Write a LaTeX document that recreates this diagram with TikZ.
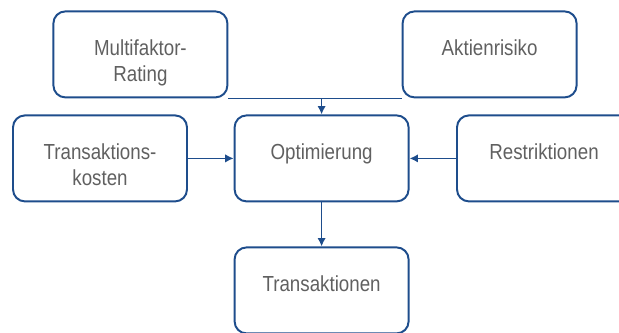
\documentclass[tikz,border=0pt]{standalone}
\usepackage{fontspec}
\setmainfont[FakeStretch=0.86]{Liberation Sans}
\usepackage{xcolor}
\usepackage{tikz}
\usetikzlibrary{arrows.meta,positioning}
\definecolor{accent}{HTML}{1E4D8C}
\definecolor{txtgray}{HTML}{606060}
\tikzset{
  kbox/.style={draw=accent,line width=1.4pt,rounded corners=8.5pt,minimum width=4.35cm,minimum height=2.15cm,inner sep=0pt},
  ktext/.style={anchor=base,text=txtgray,align=center,inner sep=0pt,font=\fontsize{15.5}{18.6}\selectfont},
  karr/.style={-{Latex[length=2.1mm,width=2.1mm]},line width=1.1pt,draw=accent},
  kline/.style={line width=1.1pt,draw=accent}
}

\begin{document}
\begin{tikzpicture}
  \useasboundingbox (0,0) rectangle (15.475,-8.3);
  % boxes
  \node[kbox] (mfr) at (3.51,-1.36) {};
  \node[kbox] (akt) at (12.24,-1.36) {};
  \node[kbox] (tk) at (2.50,-3.96) {};
  \node[kbox] (opt) at (8.04,-3.96) {};
  \node[kbox] (res) at (13.60,-3.96) {};
  \node[kbox] (trn) at (8.04,-7.26) {};
  % texts (base of two-line nodes is the last line)
  \node[ktext] (mfrT) at ([yshift=-1.775cm]mfr.north) {Multifaktor-\\Rating};
  \node[ktext] (aktT) at ([yshift=-1.12cm]akt.north) {Aktienrisiko};
  \node[ktext] (tkT) at ([yshift=-1.775cm]tk.north) {Transaktions-\\kosten};
  \node[ktext] (optT) at ([yshift=-1.12cm]opt.north) {Optimierung};
  \node[ktext] (resT) at ([yshift=-1.12cm]res.north) {Restriktionen};
  \node[ktext] (trnT) at ([yshift=-1.12cm]trn.north) {Transaktionen};
  % connectors
  \coordinate (join) at (opt.north |- mfr.south);
  \draw[kline] (mfr.south east) -- (akt.south west);
  \draw[karr] (join) -- (opt.north);
  \draw[karr] (tk.east) -- (opt.west);
  \draw[karr] (res.west) -- (opt.east);
  \draw[karr] (opt.south) -- (trn.north);
\end{tikzpicture}
\end{document}
